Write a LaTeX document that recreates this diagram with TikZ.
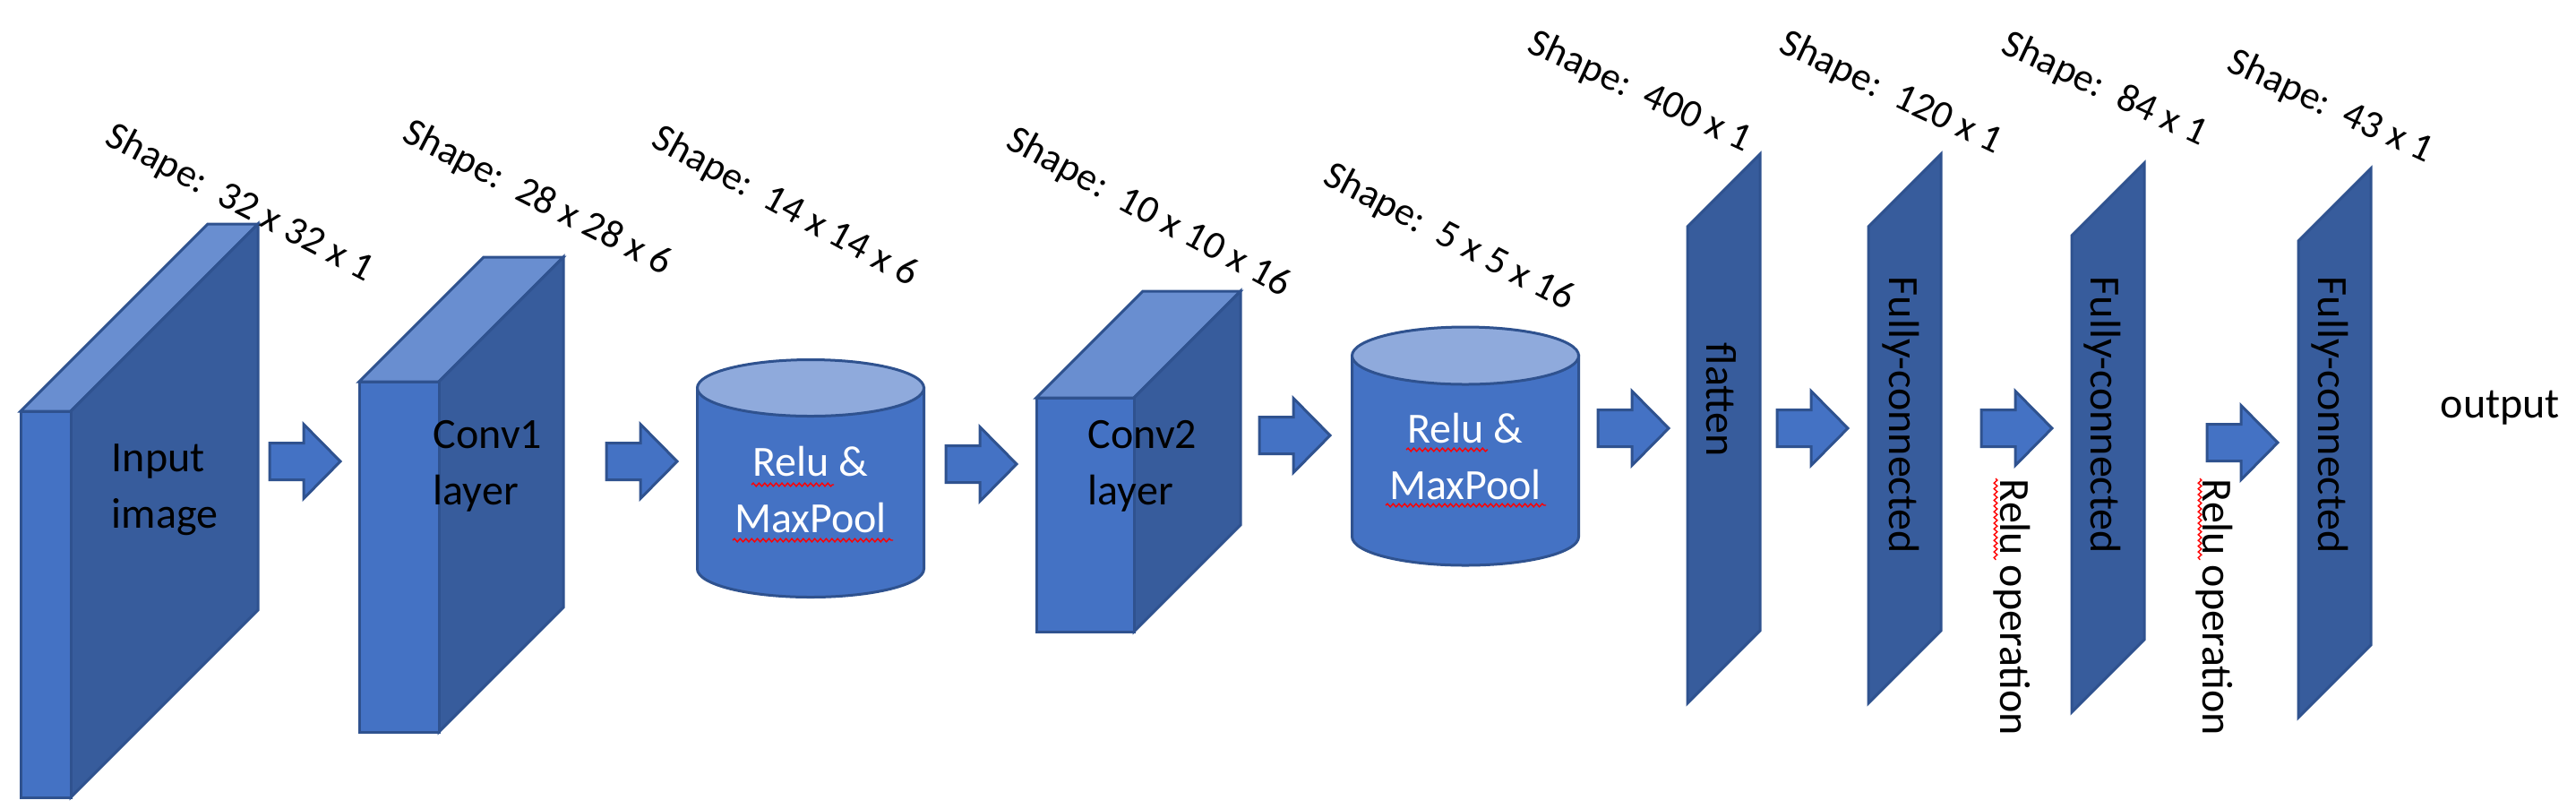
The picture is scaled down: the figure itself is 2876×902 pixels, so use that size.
\documentclass[tikz,border=0pt]{standalone}
\usepackage{fontspec}
\setmainfont{Carlito}
\usetikzlibrary{decorations.pathmorphing}
\definecolor{frontblue}{HTML}{4472C4}
\definecolor{edgeblue}{HTML}{2F528F}
\definecolor{sideblue}{HTML}{375C9C}
\definecolor{topblue}{HTML}{698ED0}
\definecolor{cyltop}{HTML}{8FAADC}
\newcommand\cnncube[5]{%
  \filldraw[edge, fill=topblue] (#1,#2) -- (#1+#5,#2-#5) -- (#3+#5,#2-#5) -- (#3,#2) -- cycle;
  \filldraw[edge, fill=sideblue] (#3,#2) -- (#3+#5,#2-#5) -- (#3+#5,#4-#5) -- (#3,#4) -- cycle;
  \filldraw[edge, fill=frontblue] (#1,#2) rectangle (#3,#4);
}
\newcommand\cnncyl[5]{%
  \filldraw[edge, fill=frontblue] (#1-#4,#2) -- (#1-#4,#3) arc[start angle=180, end angle=0, x radius=#4, y radius=#5] -- (#1+#4,#2) -- cycle;
  \filldraw[edge, fill=cyltop] (#1,#2) ellipse [x radius=#4, y radius=#5];
}
\newcommand\fcbar[2]{%
  \filldraw[edge, fill=sideblue] (#1,#2) -- (#1+81,#2-81) -- (#1+81,#2+451) -- (#1,#2+532) -- cycle;
}
\tikzset{
  edge/.style={draw=edgeblue, line width=0.75pt, line join=miter},
  blockarrow/.pic={\filldraw[edge, fill=frontblue] (0,-20.5) -- (38,-20.5) -- (38,-41.5) -- (79,0) -- (38,41.5) -- (38,20.5) -- (0,20.5) -- cycle;},
  shapelbl/.style={anchor=base west, inner sep=0pt, font=\fontsize{11pt}{13pt}\selectfont},
  bodytxt/.style={inner sep=0pt, font=\fontsize{12pt}{15.75pt}\selectfont},
  squig/.style={draw=red, line width=0.35pt, decorate, decoration={snake, amplitude=0.45pt, segment length=1.6pt}},
}
\frenchspacing
\begin{document}
\begin{tikzpicture}[x=0.25pt, y=-0.25pt]
\useasboundingbox (0,0) rectangle (2876,902);
\fill[white] (0,0) rectangle (2876,902);

% 3D boxes
\cnncube{23}{459}{79}{890}{209}
\cnncube{401}{426}{490}{817}{139}
\cnncube{1157}{444}{1266}{705}{119}

% cylinders
\cnncyl{905}{433}{635}{126.5}{31.5}
\cnncyl{1636}{397}{599}{126.5}{32}

% fully connected bars
\fcbar{1884}{253}
\fcbar{2086}{253}
\fcbar{2313}{263}
\fcbar{2566}{269}

% block arrows
\pic at (301,515) {blockarrow};
\pic at (677,515) {blockarrow};
\pic at (1056,518) {blockarrow};
\pic at (1406,486) {blockarrow};
\pic at (1784,478) {blockarrow};
\pic at (1984,478) {blockarrow};
\pic at (2212,478) {blockarrow};
\pic at (2464,494) {blockarrow};

% shape labels
\node[shapelbl, rotate=-27.8] (s1) at (115,160) {Shape:\ \ 32 x 32 x 1};
\node[shapelbl, rotate=-27.3] (s2) at (447,156) {Shape:\ \ 28 x 28 x 6};
\node[shapelbl, rotate=-28.6] (s3) at (725,162) {Shape:\ \ 14 x 14 x 6};
\node[shapelbl, rotate=-28.3] (s4) at (1121,164) {Shape:\ \ 10 x 10 x 16};
\node[shapelbl, rotate=-27.6] (s5) at (1475,204) {Shape:\ \ 5 x 5 x 16};
\node[shapelbl, rotate=-24.8] (s6) at (1703,57) {Shape:\ \ 400 x 1};
\node[shapelbl, rotate=-25.3] (s7) at (1984,57) {Shape:\ \ 120 x 1};
\node[shapelbl, rotate=-25.1] (s8) at (2232,58) {Shape:\ \ 84 x 1};
\node[shapelbl, rotate=-24.9] (s9) at (2484,78) {Shape:\ \ 43 x 1};

% box texts
\node[bodytxt, anchor=base west] (t1) at (124,526) {\begin{tabular}[t]{@{}l@{}}Input\\image\end{tabular}};
\node[bodytxt, anchor=base west] (t2) at (483,500) {\begin{tabular}[t]{@{}l@{}}Conv1\\layer\end{tabular}};
\node[bodytxt, anchor=base west] (t4) at (1214,500) {\begin{tabular}[t]{@{}l@{}}Conv2\\layer\end{tabular}};
\node[bodytxt, anchor=base, text=white] (t3) at (905,531) {\begin{tabular}[t]{@{}c@{}}Relu \&\\MaxPool\end{tabular}};
\node[bodytxt, anchor=base, text=white] (t5) at (1636,494) {\begin{tabular}[t]{@{}c@{}}Relu \&\\MaxPool\end{tabular}};

% vertical texts
\node[bodytxt, anchor=base west, rotate=-90] (fl) at (1905,382) {flatten};
\node[bodytxt, anchor=base west, rotate=-90] (fc1) at (2109,308) {Fully-connected};
\node[bodytxt, anchor=base west, rotate=-90] (fc2) at (2334,308) {Fully-connected};
\node[bodytxt, anchor=base west, rotate=-90] (fc3) at (2588,308) {Fully-connected};
\node[bodytxt, anchor=base west, rotate=-90] (r1) at (2233,534) {Relu operation};
\node[bodytxt, anchor=base west, rotate=-90] (r2) at (2459,534) {Relu operation};
\node[bodytxt, anchor=base west] (out) at (2724,466) {output};

% spell-check underlines
\draw[squig] (839,541) -- (931,541);
\draw[squig] (818,603) -- (997,603);
\draw[squig] (1570,502) -- (1661,502);
\draw[squig] (1547,564) -- (1726,564);
\draw[squig] (2228,534) -- (2228,625);
\draw[squig] (2456,534) -- (2456,625);
\end{tikzpicture}
\end{document}
